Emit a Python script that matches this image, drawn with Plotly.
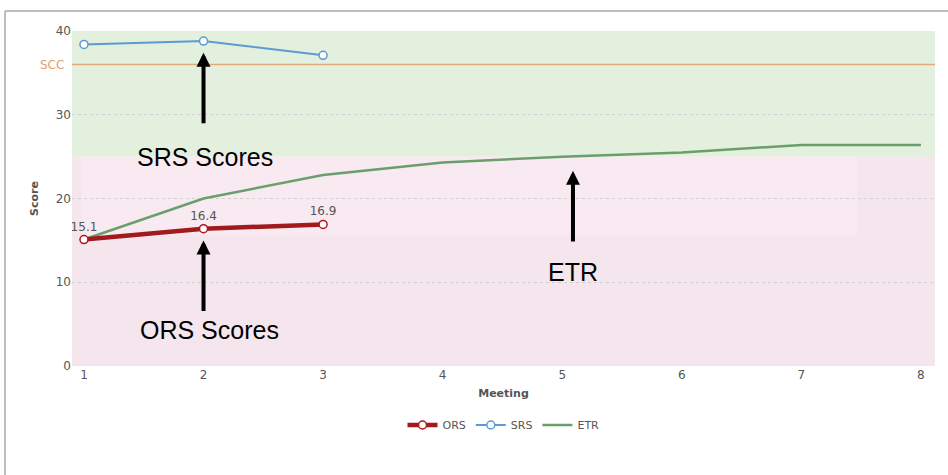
import plotly.graph_objects as go

meetings = [1, 2, 3, 4, 5, 6, 7, 8]
ors_x = [1, 2, 3]
ors_scores = [15.1, 16.4, 16.9]
srs_x = [1, 2, 3]
srs_scores = [38.4, 38.8, 37.1]
etr_values = [15.1, 20.0, 22.8, 24.3, 25.0, 25.5, 26.4, 26.4]
scc_value = 36
green_zone = [25, 40]
pink_zone = [0, 25]
y_ticks = [0, 10, 20, 30, 40]

W, H = 948, 475
L, R, T, B = 72, 13, 31, 109
pw, ph = W - L - R, H - T - B


def px_to_paper_x(px):
    return (px - L) / pw


def px_to_paper_y(py):
    return 1 - (py - T) / ph


fig = go.Figure()

fig.add_trace(go.Scatter(
    x=meetings, y=etr_values, name="ETR", mode="lines",
    line=dict(color="#6a9f6c", width=2.5), legendrank=3,
))
fig.add_trace(go.Scatter(
    x=srs_x, y=srs_scores, name="SRS", mode="lines+markers",
    line=dict(color="#5b9bd5", width=2),
    marker=dict(size=8, color="white", line=dict(color="#5b9bd5", width=1.5)),
    legendrank=2,
))
fig.add_trace(go.Scatter(
    x=ors_x, y=ors_scores, name="ORS", mode="lines+markers+text",
    text=[str(v) for v in ors_scores], textposition="top center",
    textfont=dict(family="DejaVu Sans", size=12, color="#555555"),
    line=dict(color="#a11a1e", width=4.5),
    marker=dict(size=8, color="white", line=dict(color="#b0161c", width=1.5)),
    legendrank=1,
))

shapes = [
    dict(type="rect", xref="paper", yref="y", x0=0, x1=1, y0=green_zone[0], y1=green_zone[1],
         fillcolor="#e3f0de", line_width=0, layer="below"),
    dict(type="rect", xref="paper", yref="y", x0=0, x1=1, y0=pink_zone[0], y1=pink_zone[1],
         fillcolor="#f4e6ec", line_width=0, layer="below"),
    dict(type="rect", xref="x", yref="y", x0=0.98, x1=7.47, y0=15.6, y1=pink_zone[1],
         fillcolor="#f8eaf0", line_width=0, layer="below"),
    dict(type="line", xref="paper", yref="y", x0=0, x1=1, y0=scc_value, y1=scc_value,
         line=dict(color="#e2a878", width=1.5)),
    # outer frame (top and left)
    dict(type="line", xref="paper", yref="paper", x0=px_to_paper_x(5), x1=px_to_paper_x(960),
         y0=px_to_paper_y(11), y1=px_to_paper_y(11), line=dict(color="#bdbdbd", width=2)),
    dict(type="line", xref="paper", yref="paper", x0=px_to_paper_x(5), x1=px_to_paper_x(5),
         y0=px_to_paper_y(11), y1=px_to_paper_y(480), line=dict(color="#bdbdbd", width=2)),
]

arrow_style = dict(showarrow=True, arrowhead=2, arrowsize=0.7, arrowwidth=4,
                   arrowcolor="black", axref="x", ayref="y", text="")
label_font = dict(family="Liberation Sans", size=25, color="black")
annotations = [
    dict(x=2.0, y=37.4, ax=2.0, ay=28.8, **arrow_style),
    dict(x=2.0, y=15.0, ax=2.0, ay=6.4, **arrow_style),
    dict(x=5.09, y=23.3, ax=5.09, ay=14.7, **arrow_style),
    dict(x=2.01, y=25.0, text="SRS Scores", showarrow=False, font=label_font),
    dict(x=2.05, y=4.3, text="ORS Scores", showarrow=False, font=label_font),
    dict(x=5.09, y=11.2, text="ETR", showarrow=False, font=label_font),
    dict(xref="paper", yref="y", x=-0.007, y=scc_value, text="SCC", showarrow=False,
         xanchor="right", font=dict(family="DejaVu Sans", size=12, color="#e0a070")),
]

fig.update_layout(
    width=W, height=H,
    margin=dict(l=L, r=R, t=T, b=B, autoexpand=False),
    paper_bgcolor="white", plot_bgcolor="white",
    font=dict(family="DejaVu Sans", size=12, color="#555555"),
    shapes=shapes, annotations=annotations,
    showlegend=True,
    legend=dict(orientation="h", x=0.5, xanchor="center", y=px_to_paper_y(425), yanchor="middle",
                font=dict(family="DejaVu Sans", size=11, color="#555555"),
                itemwidth=30, bgcolor="rgba(0,0,0,0)"),
    xaxis=dict(range=[0.9, 8.118], tickvals=meetings, showgrid=False, zeroline=False,
               showline=False, ticks="",
               title=dict(text="<b>Meeting</b>", standoff=8,
                          font=dict(family="DejaVu Sans", size=11, color="#555555"))),
    yaxis=dict(range=[0, 40], tickvals=y_ticks, showgrid=True, gridcolor="#d0d0d0",
               griddash="dot", gridwidth=1, zeroline=False, showline=False, ticks="",
               title=dict(text="<b>Score</b>", standoff=14,
                          font=dict(family="DejaVu Sans", size=11, color="#555555"))),
)

fig.write_html("out.html", config={"displayModeBar": False},
               post_script="document.body.style.margin='0';")
